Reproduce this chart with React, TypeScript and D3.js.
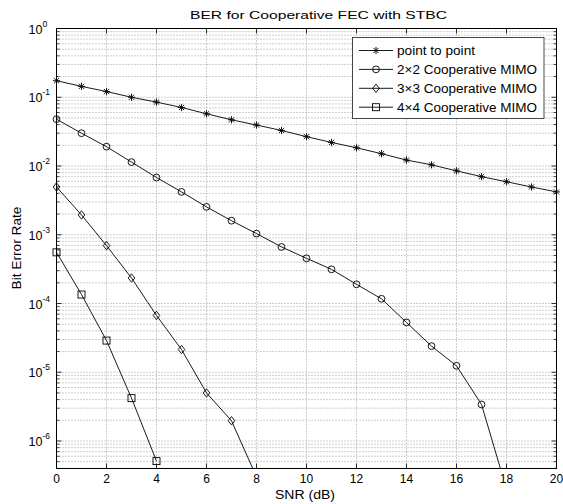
import React from 'react';
import * as d3 from 'd3';

const snrDb = [0, 1, 2, 3, 4, 5, 6, 7, 8, 9, 10, 11, 12, 13, 14, 15, 16, 17, 18, 19, 20];
const pointToPoint = [0.174, 0.144, 0.121, 0.1, 0.085, 0.071, 0.0575, 0.047, 0.0394, 0.0329, 0.0267, 0.022, 0.0184, 0.0151, 0.0122, 0.0104, 0.0085, 0.007, 0.0059, 0.00495, 0.0042];
const mimo2x2 = [0.048, 0.03, 0.0191, 0.0114, 0.0068, 0.0042, 0.00254, 0.0016, 0.00104, 0.000665, 0.000454, 0.000314, 0.00019, 0.000117, 5.3e-5, 2.4e-5, 1.24e-5, 3.4e-6, 2.0e-7];
const mimo3x3 = [0.00495, 0.00194, 0.000695, 0.000235, 6.7e-5, 2.14e-5, 5.0e-6, 1.97e-6, 3.0e-7];
const mimo4x4 = [0.000555, 0.000135, 2.89e-5, 4.2e-6, 5.1e-7];
const seriesNames = ['point to point', '2\u00d72 Cooperative MIMO', '3\u00d73 Cooperative MIMO', '4\u00d74 Cooperative MIMO'];
const seriesMarkers = ['star', 'circle', 'diamond', 'square'];
const xTicks = [0, 2, 4, 6, 8, 10, 12, 14, 16, 18, 20];
const yDecades = [0, -1, -2, -3, -4, -5, -6];
const titleText = 'BER for Cooperative FEC with STBC';
const xLabel = 'SNR (dB)';
const yLabel = 'Bit Error Rate';

const W = 563, H = 504;
const L = 56.5, R = 556.5, T = 28.5, B = 468.5;
const FONT = '"Liberation Sans", Arial, Helvetica, sans-serif';

const x = d3.scaleLinear().domain([0, 20]).range([L, R]);
const y = d3.scaleLog().domain([Math.pow(10, -6.4), 1]).range([B, T]);

function Marker({ type, cx, cy }: { type: string; cx: number; cy: number }) {
  const s = { fill: 'none', stroke: '#000', strokeWidth: 0.9 };
  if (type === 'star') {
    const r = 3.6, d = 2.6;
    return (
      <g {...s}>
        <line x1={cx - r} y1={cy} x2={cx + r} y2={cy} />
        <line x1={cx} y1={cy - r} x2={cx} y2={cy + r} />
        <line x1={cx - d} y1={cy - d} x2={cx + d} y2={cy + d} />
        <line x1={cx - d} y1={cy + d} x2={cx + d} y2={cy - d} />
      </g>
    );
  }
  if (type === 'circle') return <circle cx={cx} cy={cy} r={3.4} {...s} />;
  if (type === 'diamond')
    return <path d={`M${cx},${cy - 4.2}L${cx + 3.3},${cy}L${cx},${cy + 4.2}L${cx - 3.3},${cy}Z`} {...s} />;
  return <rect x={cx - 3.5} y={cy - 3.5} width={7} height={7} {...s} />;
}

export default function App() {
  const seriesData = [pointToPoint, mimo2x2, mimo3x3, mimo4x4];
  const line = d3
    .line<[number, number]>()
    .x((d) => x(d[0]))
    .y((d) => y(d[1]));

  const minorY: number[] = [];
  for (let k = -7; k < 0; k++) {
    for (let m = 2; m <= 9; m++) {
      const v = m * Math.pow(10, k);
      if (v > y.domain()[0] && v < 1) minorY.push(v);
    }
  }
  const grid = { stroke: '#777', strokeWidth: 0.7, strokeDasharray: '1,2', fill: 'none' };

  return (
    <svg width={W} height={H} style={{ position: 'absolute', left: 0, top: 0, background: '#fff' }} fontFamily={FONT}>
      <defs>
        <clipPath id="plotclip">
          <rect x={L} y={T} width={R - L} height={B - T} />
        </clipPath>
      </defs>
      <rect x={0} y={0} width={W} height={H} fill="#fff" />
      {/* grid */}
      {xTicks.slice(1, -1).map((t) => (
        <line key={'gx' + t} x1={x(t)} x2={x(t)} y1={T} y2={B} {...grid} />
      ))}
      {yDecades.slice(1).map((k) => (
        <line key={'gy' + k} x1={L} x2={R} y1={y(Math.pow(10, k))} y2={y(Math.pow(10, k))} {...grid} />
      ))}
      {minorY.map((v, i) => (
        <line key={'gm' + i} x1={L} x2={R} y1={y(v)} y2={y(v)} {...grid} />
      ))}
      {/* ticks */}
      {xTicks.map((t) => (
        <g key={'tx' + t} stroke="#000" strokeWidth={0.8}>
          <line x1={x(t)} x2={x(t)} y1={B} y2={B - 5} />
          <line x1={x(t)} x2={x(t)} y1={T} y2={T + 5} />
        </g>
      ))}
      {yDecades.map((k) => (
        <g key={'ty' + k} stroke="#000" strokeWidth={0.8}>
          <line x1={L} x2={L + 5} y1={y(Math.pow(10, k))} y2={y(Math.pow(10, k))} />
          <line x1={R} x2={R - 5} y1={y(Math.pow(10, k))} y2={y(Math.pow(10, k))} />
        </g>
      ))}
      {minorY.map((v, i) => (
        <g key={'tm' + i} stroke="#000" strokeWidth={0.7}>
          <line x1={L} x2={L + 3} y1={y(v)} y2={y(v)} />
          <line x1={R} x2={R - 3} y1={y(v)} y2={y(v)} />
        </g>
      ))}
      {/* series */}
      <g clipPath="url(#plotclip)">
        {seriesData.map((vals, i) => (
          <path
            key={'s' + i}
            d={line(vals.map((v, j) => [snrDb[j], v] as [number, number])) || ''}
            fill="none"
            stroke="#000"
            strokeWidth={0.9}
          />
        ))}
      </g>
      {seriesData.map((vals, i) =>
        vals.map((v, j) =>
          v >= y.domain()[0] ? <Marker key={`m${i}-${j}`} type={seriesMarkers[i]} cx={x(snrDb[j])} cy={y(v)} /> : null
        )
      )}
      {/* frame */}
      <rect x={L} y={T} width={R - L} height={B - T} fill="none" stroke="#000" strokeWidth={1} />
      {/* tick labels */}
      {xTicks.map((t) => (
        <text key={'lx' + t} x={x(t)} y={483} textAnchor="middle" fontSize={12} fill="#000">
          {t}
        </text>
      ))}
      {yDecades.map((k) => (
        <text key={'ly' + k} x={28.5} y={y(Math.pow(10, k)) + 5} fontSize={12.5} fill="#000">
          10
          <tspan dy={-7} fontSize={8.5}>
            {String(k)}
          </tspan>
        </text>
      ))}
      {/* title & labels */}
      <text x={190} y={18.5} fontSize={11.5} textLength={257} lengthAdjust="spacingAndGlyphs" fill="#000">
        {titleText}
      </text>
      <text x={305} y={499} textAnchor="middle" fontSize={12} textLength={60} lengthAdjust="spacingAndGlyphs" fill="#000">
        {xLabel}
      </text>
      <text
        transform={`translate(21,248) rotate(-90)`}
        textAnchor="middle"
        fontSize={12.5}
        textLength={83}
        lengthAdjust="spacingAndGlyphs"
        fill="#000"
      >
        {yLabel}
      </text>
      {/* legend */}
      <rect x={352.5} y={37.5} width={191.5} height={81} fill="#fff" stroke="#333" strokeWidth={0.9} />
      {seriesNames.map((name, i) => {
        const ly = 50.5 + i * 18.9;
        return (
          <g key={'lg' + i}>
            <line x1={359} x2={393} y1={ly} y2={ly} stroke="#000" strokeWidth={0.9} />
            <Marker type={seriesMarkers[i]} cx={376} cy={ly} />
            <text x={397} y={ly + 4.5} fontSize={12.5} textLength={i === 0 ? 78 : 140} lengthAdjust="spacingAndGlyphs" fill="#000">
              {name}
            </text>
          </g>
        );
      })}
    </svg>
  );
}
